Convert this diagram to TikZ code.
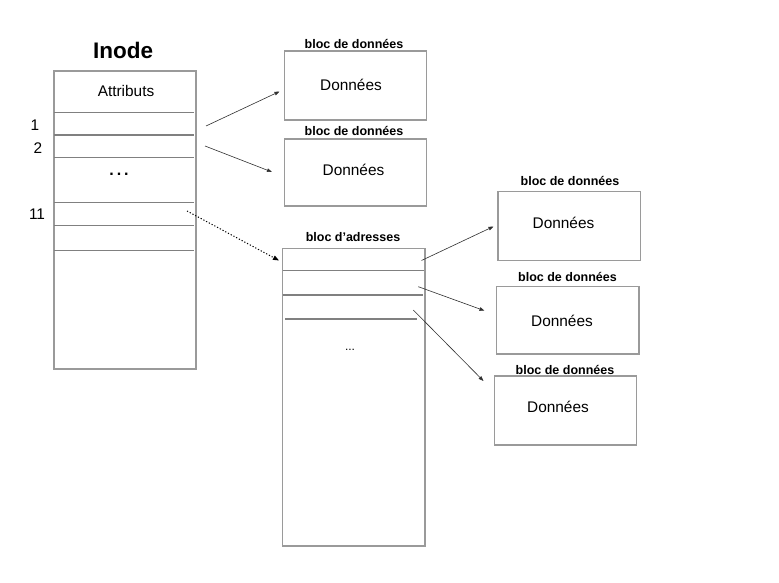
\documentclass[tikz,border=0pt]{standalone}
\usepackage{fontspec}
\setmainfont{Liberation Sans}
\usetikzlibrary{arrows.meta}
\definecolor{boxgray}{HTML}{9A9A9A}
\definecolor{linegray}{HTML}{808080}
\definecolor{arrowgray}{HTML}{303030}
\tikzset{
  blockbox/.style={draw=boxgray, line width=1.3pt, inner sep=0pt, outer sep=0pt, anchor=north west, fill=white},
  rowline/.style={draw=linegray, line width=1.1pt},
  blocktitle/.style={font=\fontsize{12.5}{14}\selectfont\bfseries, inner sep=0pt},
  bodytext/.style={font=\fontsize{15.4}{18}\selectfont, inner sep=0pt},
  ptr/.style={draw=arrowgray, line width=0.6pt, -{Triangle[length=5pt,width=3.6pt]}},
  ptrdot/.style={draw=black, line width=1pt, dash pattern=on 1.2pt off 1.9pt, -{Triangle[length=6pt,width=4.5pt]}}
}
\begin{document}
\begin{tikzpicture}[x=1pt,y=-1pt]
\useasboundingbox[fill=white] (0,0) rectangle (779,583);

% Inode
\node[font=\fontsize{22.5}{26}\selectfont\bfseries, inner sep=0pt] (inodetitle) at (123,50) {Inode};
\node[blockbox, minimum width=142pt, minimum height=298pt] (inode) at (54,71) {};
\node[bodytext] (attr) at (126,90.5) {Attributs};
\foreach \yy in {112.7,135,157.3,202.7,225.3,250.7}{
  \draw[rowline] (54,\yy) -- (194,\yy);
}
\node[bodytext] (n1) at (35,125) {1};
\node[bodytext] (n2) at (38,148) {2};
\node[bodytext] (n11) at (37,214) {11};
\node[font=\fontsize{16}{18}\selectfont\bfseries, inner sep=0pt] (idots) at (119,174) {.\kern3pt.\kern3pt.};

% data blocks top
\node[blocktitle] (t1) at (354,44) {bloc de données};
\node[blockbox, minimum width=142pt, minimum height=69pt] (d1) at (284.3,51) {};
\node[bodytext] (dt1) at (351,85) {Données};

\node[blocktitle] (t2) at (354,130.5) {bloc de données};
\node[blockbox, minimum width=142pt, minimum height=67pt] (d2) at (284.3,139) {};
\node[bodytext] (dt2) at (353.5,170) {Données};

% address block
\node[blocktitle] (ta) at (353,237) {bloc d’adresses};
\node[blockbox, minimum width=142.3pt, minimum height=297.7pt] (addr) at (282.7,248.3) {};
\draw[rowline] (282.7,270.5) -- (424,270.5);
\draw[rowline] (282.7,295) -- (422.5,295);
\draw[rowline] (285,319) -- (417,319);
\node[font=\fontsize{12}{14}\selectfont, inner sep=0pt] (adots) at (350,350) {...};

% right data blocks
\node[blocktitle] (tA) at (570,181) {bloc de données};
\node[blockbox, minimum width=142.7pt, minimum height=69pt] (dA) at (498,191.7) {};
\node[bodytext] (dtA) at (563.5,222.5) {Données};

\node[blocktitle] (tB) at (567.5,276.5) {bloc de données};
\node[blockbox, minimum width=142.3pt, minimum height=67.3pt] (dB) at (496.7,286.7) {};
\node[bodytext] (dtB) at (562,320.5) {Données};

\node[blocktitle] (tC) at (565,369.5) {bloc de données};
\node[blockbox, minimum width=142.4pt, minimum height=69pt] (dC) at (494.3,376) {};
\node[bodytext] (dtC) at (558,407) {Données};

% pointer ends
\coordinate (p1s) at (206,126);   \coordinate (p1e) at (279.5,91.5);
\coordinate (p2s) at (205,146);   \coordinate (p2e) at (272,172);
\coordinate (p3s) at (187,211);   \coordinate (p3e) at (279,260.5);
\coordinate (pAs) at (421.5,260.5); \coordinate (pAe) at (493.5,226.5);
\coordinate (pBs) at (418.3,286.7); \coordinate (pBe) at (484.5,310.7);
\coordinate (pCs) at (413.3,310);   \coordinate (pCe) at (483.5,381);

\draw[ptr] (p1s) -- (p1e);
\draw[ptr] (p2s) -- (p2e);
\draw[ptrdot] (p3s) -- (p3e);
\draw[ptr] (pAs) -- (pAe);
\draw[ptr] (pBs) -- (pBe);
\draw[ptr] (pCs) -- (pCe);
\end{tikzpicture}
\end{document}
